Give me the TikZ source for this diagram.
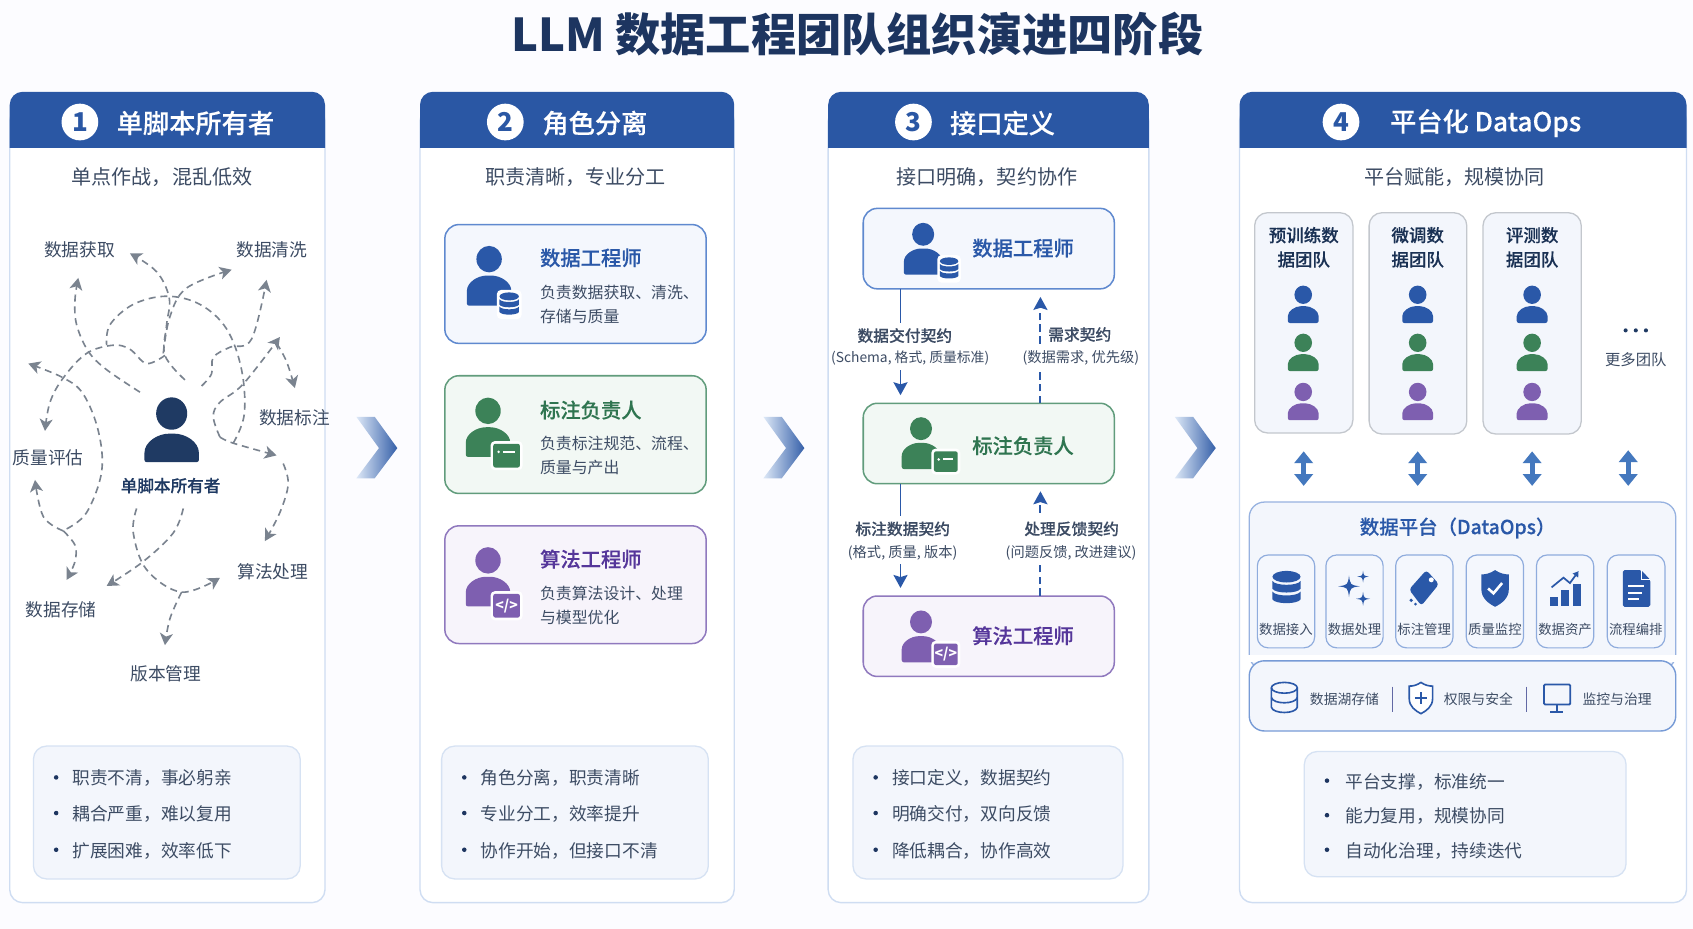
\documentclass[tikz,border=0pt]{standalone}
\usepackage{fontspec}
\setmainfont{Noto Sans CJK SC}
\newfontfamily\med[FakeBold=0.25]{Noto Sans CJK SC Medium}
\usetikzlibrary{arrows.meta,calc}
\definecolor{hb}{HTML}{2A57A4}
\definecolor{pb}{HTML}{CFDDF2}
\definecolor{tt}{HTML}{1D3560}
\definecolor{subc}{HTML}{3D4C64}
\definecolor{dk}{HTML}{1F3A63}
\definecolor{blu}{HTML}{2A58A8}
\definecolor{gre}{HTML}{3C8258}
\definecolor{pur}{HTML}{7E5FB0}
\definecolor{blub}{HTML}{5F89CF}
\definecolor{greb}{HTML}{619C7C}
\definecolor{purb}{HTML}{9079BE}
\definecolor{bluf}{HTML}{F4F7FD}
\definecolor{gref}{HTML}{F2F8F4}
\definecolor{purf}{HTML}{F7F4FB}
\definecolor{gry}{HTML}{7A838F}
\definecolor{dblue}{HTML}{4478BE}
\definecolor{boxf}{HTML}{F3F6FC}
\definecolor{boxb}{HTML}{D6E2F3}
\definecolor{purt}{HTML}{55369A}
\definecolor{gret}{HTML}{2F7550}
\definecolor{chevl}{HTML}{DDE8F7}
\newcommand\fs[1]{\fontsize{#1}{#1}\selectfont}
\tikzset{
 rbox/.style={anchor=north west,inner sep=0pt,outer sep=0pt,rounded corners=#1,minimum width=0pt,minimum height=0pt},
 panelbox/.style={rbox=12pt,draw=pb,fill=white,line width=1.3pt},
 listbox/.style={rbox=12pt,draw=boxb,fill=boxf,line width=1.2pt},
 chd/.style={font=\fs{24.3}\med,text=white,inner sep=0pt,yshift=-1pt},
 numb/.style={circle,fill=white,minimum size=34pt,inner sep=0pt,text=hb,font=\fs{24}\bfseries},
 subt/.style={font=\fs{18.6},text=subc,inner sep=0pt,yshift=-.8pt},
 lab/.style={font=\fs{16.4},text=subc,inner sep=0pt,yshift=-.8pt,xshift=.7pt},
 ltxt/.style={font=\fs{16.4},text=subc,inner sep=0pt,anchor=west,yshift=-.8pt},
 ctitle/.style={font=\fs{18.8}\med,inner sep=0pt,yshift=-.8pt},
 desc/.style={font=\fs{14.7},text=subc,inner sep=0pt,anchor=west,yshift=-.8pt},
 scribble/.style={draw=gry,line width=1.5pt,dash pattern=on 6.5pt off 4.5pt,-{Stealth[length=11pt,width=12pt,inset=3pt]}},
 contractsolid/.style={draw=blu,line width=1.8pt,-{Stealth[length=12pt,width=13pt,inset=2pt]}},
 contractdash/.style={contractsolid,dash pattern=on 7pt off 4pt},
 cmain/.style={font=\fs{14.6}\med,text=subc,fill=white,inner xsep=1pt,inner ysep=0pt,minimum height=24pt,yshift=-.8pt},
 csub/.style={font=\fs{13.2},text=subc,fill=white,inner xsep=1pt,inner ysep=0pt,minimum height=22pt,yshift=-.8pt},
 tile/.style={rbox=10pt,draw=blub!70,fill=bluf,line width=1.1pt},
 tilet/.style={font=\fs{12.4},text=subc,inner sep=0pt,yshift=-.8pt},
 dbl/.style={draw=dblue,line width=4.5pt,{Triangle[length=11pt,width=17pt]}-{Triangle[length=11pt,width=17pt]}},
}
% box node from corners
\newcommand\BX[6]{\node[#2,minimum width={(#5-#3)*1pt},minimum height={(#6-#4)*1pt}] (#1) at (#3,#4) {};}
% person: x y scale colour bottom
\newcommand\Pers[5]{\begin{scope}[shift={(#1,#2)},scale=#3]
 \fill[#4] (0,0) ellipse (12 and 12.5);
 \fill[#4,rounded corners=2pt] (-21,#5) -- (-21,32) .. controls (-21,22) and (-11,15.5) .. (0,15.5) .. controls (11,15.5) and (21,22) .. (21,32) -- (21,#5) -- cycle;
\end{scope}}
% db solid icon
\newcommand\DbIcon[4][0]{\begin{scope}[shift={(#2,#3)},scale=#4]
 \ifnum#1=1 \fill[white,rounded corners=4pt] (-11.5,-13.5) rectangle (11.5,13.5);\fi
 \fill[blu] (0,-7.5) ellipse (9 and 3.7);
 \foreach \d in {0,6.8}{
 \fill[blu,shift={(0,\d)}] (-9,-4.8) .. controls (-7,-1.5) and (7,-1.5) .. (9,-4.8) -- (9,0.2) .. controls (7,3.4) and (-7,3.4) .. (-9,0.2) -- cycle;}
\end{scope}}
\newcommand\CardIcon[5]{% x1 y1 x2 y2 name
 \fill[white,rounded corners=4pt] (#1-2.5,#2-2.5) rectangle (#3+2.5,#4+2.5);
 \fill[gre,rounded corners=2pt] (#1,#2) rectangle (#3,#4);
 \fill[white] ($(#1,#2)!0.2!(#3,#2)+(0,7.5)$) circle (1.3);
 \draw[white,line width=1.8pt] ($(#1,#2)!0.37!(#3,#2)+(0,7.5)$) -- ($(#1,#2)!0.82!(#3,#2)+(0,7.5)$);}
\newcommand\CodeIcon[5]{%
 \fill[white,rounded corners=4pt] (#1-2.5,#2-2.5) rectangle (#3+2.5,#4+2.5);
 \fill[pur,rounded corners=2pt] (#1,#2) rectangle (#3,#4);
 \node[font=\fs{13}\bfseries,text=white,inner sep=0pt] (#5) at ($(#1,#2)!0.5!(#3,#4)$) {</>};}
\newcommand\Spark[3]{\fill[blu] (#1,#2-#3) .. controls (#1+.12*#3,#2-.12*#3) .. (#1+#3,#2) .. controls (#1+.12*#3,#2+.12*#3) .. (#1,#2+#3) .. controls (#1-.12*#3,#2+.12*#3) .. (#1-#3,#2) .. controls (#1-.12*#3,#2-.12*#3) .. cycle;}
\newcommand\ShieldShape{(0,-17) .. controls (-4.5,-14) and (-8.5,-13) .. (-12.7,-13) -- (-12.7,1) .. controls (-12.7,9) and (-6,14) .. (0,17) .. controls (6,14) and (12.7,9) .. (12.7,1) -- (12.7,-13) .. controls (8.5,-13) and (4.5,-14) .. (0,-17) -- cycle}
\newcommand\Bullets[9]{%
 \fill[tt] (#2,#4) circle (2.1); \fill[tt] (#2,#5) circle (2.1); \fill[tt] (#2,#6) circle (2.1);
 \node[ltxt] (#1a) at (#3,#4) {#7};
 \node[ltxt] (#1b) at (#3,#5) {#8};
 \node[ltxt] (#1c) at (#3,#6) {#9};}
\newcommand\Chev[1]{\shade[left color=chevl,right color=hb!95!white] (#1,386) -- (#1+17,386) -- (#1+38,415) -- (#1+17,443) -- (#1,443) -- (#1+21,415) -- cycle;}
\begin{document}
\begin{tikzpicture}[x=1pt,y=-1pt]
\useasboundingbox (0,0) rectangle (1568,860);
\fill[white!99!blue] (0,0) rectangle (1568,860);
\node[font=\fs{41.9}\bfseries,text=tt,inner sep=0pt] (title) at (794,32) {LLM 数据工程团队组织演进四阶段};
% panels
\BX{p1}{panelbox}{9}{100}{301}{836}
\BX{p2}{panelbox}{389}{100}{680}{836}
\BX{p3}{panelbox}{767}{100}{1064}{836}
\BX{p4}{panelbox}{1148}{100}{1562}{836}
\foreach \a/\b in {9/301,389/680,767/1064,1148/1562}{
 \fill[hb] (\a,137) [rounded corners=12pt] -- (\a,85) -- (\b,85) [sharp corners] -- (\b,137) -- cycle;}
\node[numb] (n1) at (74,113) {1};
\node[numb] (n2) at (468,113) {2};
\node[numb] (n3) at (846,113) {3};
\node[numb] (n4) at (1242,113) {4};
\node[chd] (h1) at (181,113) {单脚本所有者};
\node[chd] (h2) at (551,113) {角色分离};
\node[chd] (h3) at (928.5,113) {接口定义};
\node[chd] (h4) at (1376,113) {平台化 DataOps};
\node[subt] (s1) at (150,163) {单点作战，混乱低效};
\node[subt] (s2) at (533,163) {职责清晰，专业分工};
\node[subt] (s3) at (914,163) {接口明确，契约协作};
\node[subt] (s4) at (1347,163) {平台赋能，规模协同};
% chevrons
\Chev{330}\Chev{707}\Chev{1088}
% panel 1
\Pers{159}{383}{1.2}{dk}{37.5}
\node[font=\fs{15.4}\med,text=dk,inner sep=0pt,yshift=-.8pt] (owner) at (158,449) {单脚本所有者};
\node[lab] (l1) at (73,231) {数据获取};
\node[lab] (l2) at (251,231) {数据清洗};
\node[lab] (l3) at (272,386) {数据标注};
\node[lab] (l4) at (44,423) {质量评估};
\node[lab] (l5) at (252,529) {算法处理};
\node[lab] (l6) at (56,564) {数据存储};
\node[lab] (l7) at (153,623) {版本管理};
\begin{scope}[shift={(0,74)},x=.3086pt,y=-.378pt]
\draw[scribble] plot[smooth,tension=.6] coordinates {(420,765) (320,710) (265,665) (230,600) (225,540) (235,485)};
\draw[scribble] plot[smooth,tension=.6] coordinates {(555,735) (495,675) (500,600) (508,535) (470,470) (390,425)};
\draw[scribble] plot[smooth,tension=.6] coordinates {(490,670) (510,580) (560,510) (695,465)};
\draw[scribble] plot[smooth,tension=.6] coordinates {(605,750) (635,720) (640,680) (690,655) (755,635) (800,490)};
\draw[scribble,-] plot[smooth,tension=.6] coordinates {(700,890) (733,820) (725,710) (680,610) (600,550) (500,530) (400,550) (330,600) (320,650)};
\draw[scribble] plot[smooth,tension=.6] coordinates {(495,675) (440,695) (390,660) (340,650) (260,670) (190,730) (150,790) (135,860)};
\draw[scribble] plot[smooth,tension=.6] coordinates {(200,1100) (260,1060) (305,960) (295,860) (250,770) (190,730) (85,695)};
\draw[scribble] plot[smooth,tension=.6] coordinates {(190,1105) (130,1070) (105,980)};
\draw[scribble] plot[smooth,tension=.6] coordinates {(190,1105) (225,1140) (225,1180) (200,1225)};
\draw[scribble] plot[smooth,tension=.6] coordinates {(550,1050) (520,1110) (430,1180) (320,1240)};
\draw[scribble] plot[smooth,tension=.6] coordinates {(410,1050) (400,1110) (440,1200) (545,1255) (660,1220)};
\draw[scribble] plot[smooth,tension=.6] coordinates {(545,1255) (510,1320) (495,1385)};
\draw[scribble] plot[smooth,tension=.6] coordinates {(660,875) (640,825) (660,790) (730,745) (840,630)};
\draw[scribble] plot[smooth,tension=.6] coordinates {(660,875) (700,890) (830,920)};
\draw[scribble] plot[smooth,tension=.6] coordinates {(830,645) (860,690) (885,755)};
\draw[scribble] plot[smooth,tension=.6] coordinates {(850,940) (865,990) (840,1060) (795,1130)};
\end{scope}
% panel 2
\BX{c2a}{rbox=13pt,draw=blub,fill=bluf,line width=1.4pt}{412}{208}{654}{318}
\BX{c2b}{rbox=13pt,draw=greb,fill=gref,line width=1.4pt}{412}{348}{654}{457}
\BX{c2c}{rbox=13pt,draw=purb,fill=purf,line width=1.4pt}{412}{487}{654}{596}
\Pers{453}{240}{.98}{blu}{44}\DbIcon[1]{471.6}{282}{1}
\Pers{452}{380.5}{.98}{gre}{43.5}\CardIcon{456.8}{411}{481.5}{433}{ci1}
\Pers{452}{519}{.98}{pur}{43.5}\CodeIcon{456.8}{550}{481.5}{572}{cd1}
\node[ctitle,anchor=west,text=blu] (t2a) at (500,238) {数据工程师};
\node[desc] (d2a1) at (500,270) {负责数据获取、清洗、};
\node[desc] (d2a2) at (500,292) {存储与质量};
\node[ctitle,anchor=west,text=gret] (t2b) at (500,379) {标注负责人};
\node[desc] (d2b1) at (500,410) {负责标注规范、流程、};
\node[desc] (d2b2) at (500,432) {质量与产出};
\node[ctitle,anchor=west,text=purt] (t2c) at (500,517) {算法工程师};
\node[desc] (d2c1) at (500,549) {负责算法设计、处理};
\node[desc] (d2c2) at (500,571) {与模型优化};
% panel 3
\BX{c3a}{rbox=13pt,draw=blub,fill=bluf,line width=1.4pt}{799.5}{193}{1032}{267.5}
\BX{c3b}{rbox=13pt,draw=greb,fill=gref,line width=1.4pt}{799.5}{373.5}{1032}{448}
\BX{c3c}{rbox=13pt,draw=purb,fill=purf,line width=1.4pt}{799.5}{552}{1032}{626.5}
\Pers{855}{217}{.85}{blu}{44}\DbIcon[1]{879}{249}{.95}
\Pers{853}{397}{.85}{gre}{44}\CardIcon{865}{418}{887}{437}{ci2}
\Pers{853}{576}{.85}{pur}{44}\CodeIcon{865}{596}{887}{616}{cd2}
\node[ctitle,text=blu] (t3a) at (947.5,229) {数据工程师};
\node[ctitle,text=gret] (t3b) at (947.5,412) {标注负责人};
\node[ctitle,text=purt] (t3c) at (947.5,588) {算法工程师};
\coordinate (xl) at (834,0);
\coordinate (xr) at (963.6,0);
\draw[contractsolid,shorten >=7.5pt] (c3a.south -| xl) -- (c3b.north -| xl);
\draw[contractdash,shorten >=7.5pt] (c3b.north -| xr) -- (c3a.south -| xr);
\draw[contractsolid,shorten >=7.5pt] (c3b.south -| xl) -- (c3c.north -| xl);
\draw[contractdash,shorten >=7pt] (c3c.north -| xr) -- (c3b.south -| xr);
\node[cmain] (k1) at (838,310) {数据交付契约};
\node[csub,font=\fs{12.8}] (k1s) at (843,331) {(Schema, 格式, 质量标准)};
\node[cmain,fill=none] (k2) at (1000,309) {需求契约};
\node[csub] (k2s) at (1001,331) {(数据需求, 优先级)};
\node[cmain] (k3) at (836,489) {标注数据契约};
\node[csub] (k3s) at (836,511) {(格式, 质量, 版本)};
\node[cmain] (k4) at (992.5,489) {处理反馈契约};
\node[csub] (k4s) at (992,511) {(问题反馈, 改进建议)};
% panel 4 teams
\BX{tm1}{rbox=12pt,draw=gry!45,fill=boxf,line width=1.2pt}{1162}{197}{1253}{401}
\BX{tm2}{rbox=12pt,draw=gry!45,fill=boxf,line width=1.2pt}{1268}{197}{1358.5}{402}
\BX{tm3}{rbox=12pt,draw=gry!45,fill=boxf,line width=1.2pt}{1373.5}{197}{1464.5}{402}
\tikzset{teamt/.style={font=\fs{16.2}\med,text=dk!85!black,inner sep=0pt,yshift=-.8pt}}
\node[teamt] (tt1a) at (1207.5,217) {预训练数};
\node[teamt] (tt1b) at (1207.5,239.5) {据团队};
\node[teamt] (tt2a) at (1313,217) {微调数};
\node[teamt] (tt2b) at (1313,239.5) {据团队};
\node[teamt] (tt3a) at (1419,217) {评测数};
\node[teamt] (tt3b) at (1419,239.5) {据团队};
\foreach \x in {1207,1313,1419}{
 \Pers{\x}{273}{.68}{blu}{38.5}
 \Pers{\x}{317.5}{.68}{gre}{38.5}
 \Pers{\x}{363}{.68}{pur}{38.5}}
\foreach \x in {1505.6,1515,1524.4}{\fill[dk] (\x,306) circle (1.9);}
\node[font=\fs{14.2},text=subc,inner sep=0pt,yshift=-.8pt] (more) at (1515,332) {更多团队};
% platform
\BX{pf}{rbox=14pt,draw=blub!65,fill=boxf,line width=1.2pt}{1157}{465}{1552}{620}
\fill[white] (1150,607) rectangle (1556,613);
\BX{lk}{rbox=14pt,draw=blub!85,fill=boxf,line width=1.3pt}{1157}{612}{1552}{677}
\coordinate (x1) at (1207.4,0);\coordinate (x2) at (1313,0);\coordinate (x3) at (1419,0);
\coordinate (more4) at (1508,400);
\draw[dbl,shorten <=17pt,shorten >=15pt] (tm1.south -| x1) -- (pf.north -| x1);
\draw[dbl,shorten <=16pt,shorten >=15pt] (tm2.south -| x2) -- (pf.north -| x2);
\draw[dbl,shorten <=16pt,shorten >=15pt] (tm3.south -| x3) -- (pf.north -| x3);
\draw[dbl,shorten <=17pt,shorten >=15pt] (more4) -- (pf.north -| more4);
\node[font=\fs{18}\med,text=blu,inner sep=0pt,yshift=-1pt] (pft) at (1350,488) {数据平台（DataOps）};
\BX{ta}{tile}{1164.5}{514}{1217.6}{600}
\BX{tb}{tile}{1228}{514}{1281}{600}
\BX{tc}{tile}{1292.6}{514}{1345.7}{600}
\BX{td}{tile}{1358}{514}{1411}{600}
\BX{te}{tile}{1423}{514}{1476}{600}
\BX{tf}{tile}{1488.6}{514}{1542}{600}
\node[tilet] (la) at (1191,582) {数据接入};
\node[tilet] (lb) at (1254.5,582) {数据处理};
\node[tilet] (lc) at (1319,582) {标注管理};
\node[tilet] (ld) at (1384.5,582) {质量监控};
\node[tilet] (le) at (1449.5,582) {数据资产};
\node[tilet] (lf) at (1515,582) {流程编排};
\DbIcon{1191.5}{545}{1.45}
\Spark{1249.4}{543}{10}\Spark{1262.4}{534}{5.5}\Spark{1262.4}{554.6}{6.5}
\fill[blu,rounded corners=3pt] (1321,528) -- (1332.7,541) -- (1316.4,561) -- (1305,546) -- cycle;
\fill[white] (1325.6,537) circle (2.3);
\fill[blu] (1307,556) circle (1.7);\fill[blu] (1311,559.5) circle (1.4);
\begin{scope}[shift={(1384.7,545)}]
\fill[blu] \ShieldShape;
\draw[white,line width=2.4pt] (-6.5,0) -- (-1.5,4.5) -- (6.5,-5);
\end{scope}
\fill[blu] (1436,553) rectangle (1443,561);\fill[blu] (1446,546) rectangle (1453,561);\fill[blu] (1457,541) rectangle (1464,561);
\draw[blu,line width=1.6pt,-{Stealth[length=5pt,width=6pt,inset=0pt]}] (1437,544) -- (1448,535) -- (1454,540) -- (1462,529);
\fill[blu,rounded corners=1.5pt] (1503,528) -- (1520,528) -- (1528.4,537) -- (1528.4,562) -- (1503,562) -- cycle;
\draw[white,line width=.8pt] (1520,528) -- (1520,537) -- (1528.4,537);
\draw[white,line width=1.5pt] (1508,543) -- (1523,543) (1508,549) -- (1521,549) (1508,555) -- (1518,555);
% lower bar
\draw[blu,line width=1.5pt] (1189.5,637) ellipse (12 and 5);
\draw[blu,line width=1.5pt] (1177.5,637) -- (1177.5,655) .. controls (1179,661.5) and (1200,661.5) .. (1201.5,655) -- (1201.5,637);
\draw[blu,line width=1.5pt] (1177.5,646) .. controls (1179,652.5) and (1200,652.5) .. (1201.5,646);
\tikzset{lkt/.style={font=\fs{12.8},text=subc,inner sep=0pt,anchor=west,yshift=-.8pt}}
\node[lkt] (u1) at (1213,647) {数据湖存储};
\draw[gry!80!blue,line width=1.2pt] (1289.5,636) -- (1289.5,659);
\begin{scope}[shift={(1316,646.5)},scale=.85]
\draw[blu,line width=1.5pt,fill=white] \ShieldShape;
\draw[blu,line width=2.4pt] (-6.5,0) -- (6.5,0) (0,-6.5) -- (0,6.5);
\end{scope}
\node[lkt] (u2) at (1337,647) {权限与安全};
\draw[gry!80!blue,line width=1.2pt] (1413.6,636) -- (1413.6,659);
\draw[blu,line width=1.7pt,rounded corners=1pt] (1430,634) rectangle (1454.3,652.5);
\draw[blu,line width=1.7pt] (1442,652.5) -- (1442,659) (1436,659.5) -- (1448,659.5);
\node[lkt] (u3) at (1465.5,647) {监控与治理};
% lists
\BX{b1}{listbox}{31}{691}{278}{814}
\BX{b2}{listbox}{409}{691}{656}{814}
\BX{b3}{listbox}{790}{691}{1040}{814}
\BX{b4}{listbox}{1208}{696}{1506}{812}
\Bullets{q1}{52}{67}{720}{753}{787}{职责不清，事必躬亲}{耦合严重，难以复用}{扩展困难，效率低下}
\Bullets{q2}{430}{445}{720}{753}{787}{角色分离，职责清晰}{专业分工，效率提升}{协作开始，但接口不清}
\Bullets{q3}{811}{826}{720}{753}{787}{接口定义，数据契约}{明确交付，双向反馈}{降低耦合，协作高效}
\Bullets{q4}{1229}{1246}{723}{755}{787}{平台支撑，标准统一}{能力复用，规模协同}{自动化治理，持续迭代}
\end{tikzpicture}
\end{document}
